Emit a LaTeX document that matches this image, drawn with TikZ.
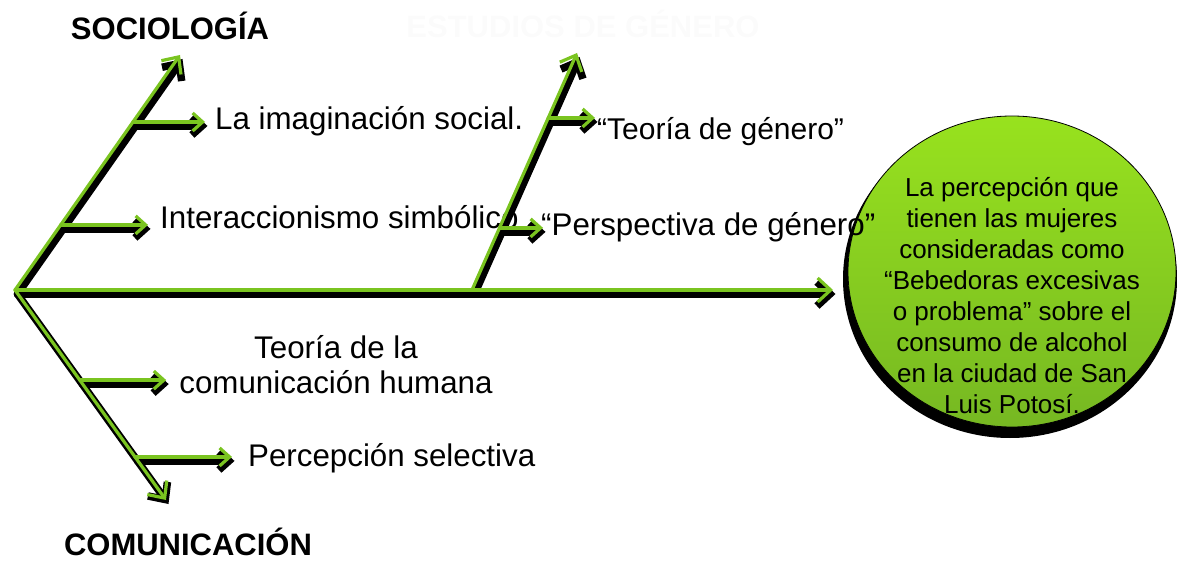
\documentclass[tikz,border=0pt]{standalone}
\usepackage{fontspec}
\setmainfont{Liberation Sans}
\usetikzlibrary{arrows.meta,calc,shapes.geometric}
\definecolor{lgreen}{RGB}{122,196,32}
\definecolor{ctop}{RGB}{152,226,30}
\definecolor{cbot}{RGB}{118,184,34}
\tikzset{
  shadowline/.style={draw=black,line width=7.5pt,line cap=round,line join=round,
    -{Straight Barb[length=13pt,width=24pt,line width=7.5pt]}},
  greenline/.style={draw=lgreen,line width=3.2pt,line cap=round,line join=round,
    -{Straight Barb[length=13pt,width=24pt,line width=3.2pt]}},
  subshadow/.style={draw=black,line width=7.5pt,line cap=round,
    -{Straight Barb[length=10pt,width=18pt,line width=7.5pt]}},
  subgreen/.style={draw=lgreen,line width=3.2pt,line cap=round,
    -{Straight Barb[length=10pt,width=18pt,line width=3.2pt]}},
  lbl/.style={font=\fontsize{31.3}{35}\selectfont,inner sep=0pt,anchor=base west},
  ttl/.style={font=\fontsize{31}{34}\selectfont\bfseries,inner sep=0pt,anchor=base},
}
\begin{document}
\begin{tikzpicture}[x=1pt,y=-1pt]
\useasboundingbox (0,0) rectangle (1177,561);
% goal circle
\fill[black] (1010,279) ellipse [x radius=167,y radius=159];
\node[ellipse,draw=black,line width=0.8pt,top color=ctop,bottom color=cbot,
  inner sep=0pt,minimum width=328pt,minimum height=311pt] (goal) at (1012,271.5) {};
\node[font=\fontsize{26}{30.9}\selectfont,align=center,inner sep=0pt,anchor=base] (gtext) at (1012,413)
  {La percepción que\\tienen las mujeres\\consideradas como\\“Bebedoras excesivas\\o problema” sobre el\\consumo de alcohol\\en la ciudad de San\\Luis Potosí.};
% titles
\node[ttl] (soc) at (170,40) {SOCIOLOGÍA};
\node[ttl] (com) at (188,555) {COMUNICACIÓN};
\node[ttl,text=black!1.5] (gen) at (583,38) {ESTUDIOS DE GÉNERO};
% labels
\node[lbl] (lim) at (215,130) {La imaginación social.};
\node[lbl] (lin) at (160,229) {Interaccionismo simbólico};
\node[lbl,font=\fontsize{30}{34}\selectfont] (ltg) at (597,140) {“Teoría de género”};
\node[lbl] (lpg) at (541,236) {“Perspectiva de género”};
\node[font=\fontsize{31.3}{35}\selectfont,align=center,inner sep=0pt,anchor=base] (ltc) at (336,393) {Teoría de la\\comunicación humana};
\node[lbl] (lps) at (248,466) {Percepción selectiva};
% key points
\coordinate (v) at (15,290);
\coordinate (ut) at (180,55);
\coordinate (lt) at (166,500);
\coordinate (m) at (472,290);
\coordinate (mt) at (577,53);
\coordinate (se) at (833,290);
\coordinate (u1) at ($(v)!0.715!(ut)$);
\coordinate (u2) at ($(v)!0.277!(ut)$);
\coordinate (l1) at ($(v)!0.429!(lt)$);
\coordinate (l2) at ($(v)!0.795!(lt)$);
\coordinate (m1) at ($(m)!0.726!(mt)$);
\coordinate (m2) at ($(m)!0.262!(mt)$);
\coordinate (u1e) at ($(u1 -| lim.west)+(-10,0)$);
\coordinate (u2e) at ($(u2 -| lin.west)+(-12,0)$);
\coordinate (m1e) at ($(m1 -| ltg.west)+(-2,0)$);
\coordinate (m2e) at ($(m2 -| lpg.west)+(2,0)$);
\coordinate (l1e) at ($(l1 -| ltc.west)+(-13,0)$);
\coordinate (l2e) at ($(l2 -| lps.west)+(-16,0)$);
% shadows (offset right and down)
\foreach \a/\b in {v/se,v/ut,v/lt,m/mt}
  \draw[shadowline] ($(\a)+(2.5,4)$) -- ($(\b)+(2.5,4)$);
\foreach \a/\b in {u1/u1e,u2/u2e,m1/m1e,m2/m2e,l1/l1e,l2/l2e}
  \draw[subshadow] ($(\a)+(2.5,4)$) -- ($(\b)+(2.5,4)$);
% green lines
\foreach \a/\b in {v/se,v/ut,v/lt,m/mt}
  \draw[greenline] (\a) -- (\b);
\foreach \a/\b in {u1/u1e,u2/u2e,m1/m1e,m2/m2e,l1/l1e,l2/l2e}
  \draw[subgreen] (\a) -- (\b);
\end{tikzpicture}
\end{document}
